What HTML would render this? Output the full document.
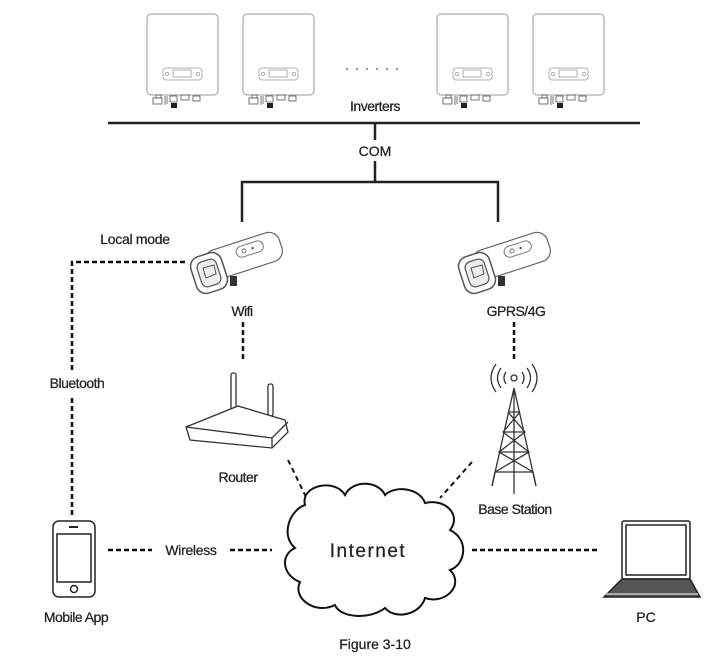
<!DOCTYPE html>
<html><head><meta charset="utf-8"><style>
html,body{margin:0;padding:0;background:#fff;}
svg{display:block;}
text{font-family:"Liberation Sans",Arial,sans-serif;fill:#222;stroke:#222;stroke-width:0.25;}
</style></head><body>
<svg width="713" height="656" viewBox="0 0 713 656" xmlns="http://www.w3.org/2000/svg">
<defs>
<g id="inv">
  <rect x="0" y="0" width="71" height="81" rx="4" fill="#fff" stroke="#999" stroke-width="1"/>
  <rect x="16" y="54" width="39" height="12" rx="3" fill="none" stroke="#999" stroke-width="0.8"/>
  <rect x="26" y="56" width="18" height="7" fill="none" stroke="#999" stroke-width="0.8"/>
  <circle cx="20" cy="60" r="1.6" fill="none" stroke="#999" stroke-width="0.7"/>
  <circle cx="51" cy="60" r="1.6" fill="none" stroke="#999" stroke-width="0.7"/>
  <g stroke="#555" stroke-width="0.8" fill="none">
    <rect x="6" y="84" width="9" height="6"/><rect x="9" y="81" width="5" height="3"/>
    <line x1="18" y1="82" x2="18" y2="91"/><line x1="20" y1="82" x2="20" y2="90"/>
    <rect x="23" y="82" width="7" height="6"/>
    <rect x="34" y="81" width="8" height="5"/>
    <rect x="46" y="82" width="7" height="5"/>
  </g>
  <rect x="24" y="89" width="6" height="5" fill="#222"/>
</g>
<g id="dongle">
  <g transform="rotate(-18 50 30)">
    <rect x="15" y="14" width="78" height="30" rx="11" fill="#fff" stroke="#666" stroke-width="1.2"/>
    <rect x="48" y="19" width="28" height="11" rx="5.5" fill="none" stroke="#777" stroke-width="1"/>
    <circle cx="56" cy="24.5" r="2" fill="none" stroke="#777"/>
    <circle cx="65" cy="24.5" r="1.2" fill="#555"/>
  </g>
  <rect x="3" y="26" width="32" height="38" rx="10" fill="#fff" stroke="#555" stroke-width="1.5" transform="rotate(-18 19 45)"/>
  <rect x="9" y="32" width="20" height="26" rx="6" fill="#eee" stroke="#555" stroke-width="1.2" transform="rotate(-18 19 45)"/>
  <path d="M13 40 l11 -3 l2 9 l-10 4 z" fill="none" stroke="#555"/>
  <rect x="40" y="48" width="7" height="10" fill="#333"/>
</g>
</defs>

<use href="#inv" x="147" y="14"/>
<use href="#inv" x="243" y="14"/>
<use href="#inv" x="437" y="14"/>
<use href="#inv" x="533" y="14"/>
<g fill="#777"><circle cx="347" cy="69" r="1"/><circle cx="357" cy="69" r="1"/><circle cx="367" cy="69" r="1"/><circle cx="377" cy="69" r="1"/><circle cx="387" cy="69" r="1"/><circle cx="397" cy="69" r="1"/></g>
<text x="375" y="111" font-size="14" text-anchor="middle" letter-spacing="-0.5">Inverters</text>

<g stroke="#222" stroke-width="2.5" fill="none">
  <line x1="108" y1="123" x2="640" y2="123"/>
  <line x1="375" y1="123" x2="375" y2="140"/>
  <line x1="375" y1="161" x2="375" y2="182"/>
  <polyline points="242,222 242,182 498,182 498,222"/>
</g>
<text x="375" y="156" font-size="14" text-anchor="middle">COM</text>

<use href="#dongle" x="190" y="228"/>
<use href="#dongle" x="458" y="228"/>
<text x="242" y="316" font-size="14" text-anchor="middle" letter-spacing="-0.5">Wifi</text>
<text x="516" y="316" font-size="14" text-anchor="middle" letter-spacing="-0.5">GPRS/4G</text>
<text x="135" y="244" font-size="14" text-anchor="middle" letter-spacing="-0.3">Local mode</text>
<text x="77" y="388" font-size="14" text-anchor="middle" letter-spacing="-0.5">Bluetooth</text>

<g stroke="#111" stroke-width="2.5" fill="none" stroke-dasharray="5,3">
  <polyline points="185,262 72,262 72,370"/>
  <line x1="72" y1="398" x2="72" y2="518"/>
  <line x1="243" y1="322" x2="243" y2="362"/>
  <line x1="514" y1="322" x2="514" y2="362"/>
  <line x1="108" y1="550" x2="152" y2="550"/>
  <line x1="230" y1="550" x2="272" y2="550"/>
  <line x1="472" y1="550" x2="600" y2="550"/>
</g>
<g stroke="#111" stroke-width="2" fill="none" stroke-dasharray="5,4">
  <line x1="288" y1="460" x2="306" y2="497"/>
  <line x1="472" y1="462" x2="440" y2="498"/>
</g>

<g stroke="#333" stroke-width="1.3" fill="#fff">
  <rect x="231" y="373" width="5" height="40" rx="2"/>
  <rect x="268" y="384" width="5" height="32" rx="2"/>
  <path d="M186 427 L238 406 L285 420 L288 432 L272 448 L190 440 Z"/>
  <path d="M186 427 L272 438 L288 422" fill="none"/>
  <path d="M272 438 L272 448" fill="none"/>
</g>
<text x="238" y="482" font-size="14" text-anchor="middle" letter-spacing="-0.5">Router</text>

<g stroke="#333" stroke-width="1.3" fill="none">
  <circle cx="514" cy="378" r="3"/>
  <path d="M506 372 q-4 6 0 12 M522 372 q4 6 0 12 M501 368 q-7 10 0 20 M527 368 q7 10 0 20 M496 364 q-10 14 0 28 M532 364 q10 14 0 28"/>
  <path d="M514 388 L492 486 M514 388 L536 486 M514 388 L514 494"/>
  <path d="M508 412 L520 412 M503 432 L525 432 M499 452 L529 452 M495 472 L533 472"/>
  <path d="M508 412 L525 432 L499 452 L533 472 M520 412 L503 432 L529 452 L495 472 L492 486 M533 472 L536 486"/>
</g>
<text x="515" y="514" font-size="14" text-anchor="middle" letter-spacing="-0.5">Base Station</text>

<path d="M305 505 C300 485 335 478 345 495 C352 480 378 480 385 495 C395 485 420 488 425 503 C445 498 462 515 450 530 C470 540 465 565 450 570 C465 585 445 605 425 598 C420 615 395 620 385 608 C370 620 340 618 335 605 C315 615 292 598 300 582 C282 575 280 555 295 548 C280 535 290 510 305 505 Z" fill="#fff" stroke="#111" stroke-width="2"/>
<text x="368" y="557" font-size="19" text-anchor="middle" letter-spacing="1.5">Internet</text>

<g stroke="#222" stroke-width="1.5" fill="#fff">
  <rect x="53" y="521" width="42" height="76" rx="6"/>
  <rect x="57" y="534" width="34" height="48" fill="#fff"/>
  <circle cx="74" cy="589" r="3.5"/>
  <line x1="69" y1="527" x2="78" y2="527" stroke-width="2"/>
</g>
<text x="76" y="622" font-size="14" text-anchor="middle" letter-spacing="-0.5">Mobile App</text>
<text x="191" y="555" font-size="14" text-anchor="middle" letter-spacing="-0.3">Wireless</text>

<g stroke="#222" stroke-width="1.5" fill="#fff">
  <rect x="622" y="521" width="68" height="58" rx="2"/>
  <rect x="626" y="525" width="60" height="50"/>
  <path d="M622 579 L690 579 L700 597 L604 597 Z" fill="#555"/>
  <path d="M606 594 L698 594" stroke="#aaa" stroke-width="2"/>
</g>
<text x="646" y="622" font-size="14" text-anchor="middle">PC</text>

<text x="375" y="649" font-size="14" text-anchor="middle" fill="#111">Figure 3-10</text>
</svg>
</body></html>
